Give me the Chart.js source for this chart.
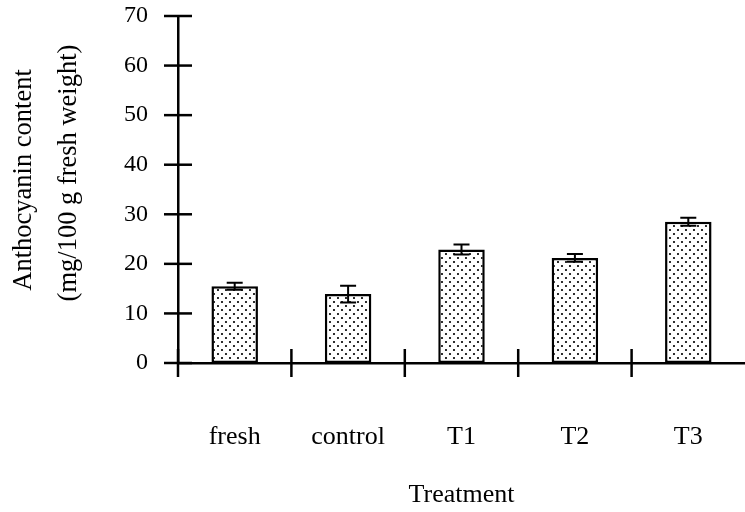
<!DOCTYPE html>
<html>
<head>
<meta charset="utf-8">
<script src="https://cdn.jsdelivr.net/npm/chart.js@4.4.1/dist/chart.umd.min.js"></script>
<style>
  html, body { margin: 0; padding: 0; background: #fff; overflow: hidden; }
  #wrap { width: 745px; height: 512px; }
</style>
</head>
<body>
<div id="wrap"><canvas id="chart" width="745" height="512"></canvas></div>
<script>
// Values
const categories = ['fresh', 'control', 'T1', 'T2', 'T3'];
const anthocyanin = [15.5, 13.9, 22.9, 21.2, 28.5];
const stdErrors = [0.7, 1.7, 1.0, 0.8, 0.8];
const yTitleLines = ['Anthocyanin content', '(mg/100 g fresh weight)'];

const SERIF = "'Liberation Serif', 'DejaVu Serif', serif";

// Dotted fill like the printed bars
function dotPattern() {
    const tile = document.createElement('canvas');
    tile.width = 8;
    tile.height = 8;
    const c = tile.getContext('2d');
    c.fillStyle = '#fff';
    c.fillRect(0, 0, 8, 8);
    c.fillStyle = '#000';
    c.beginPath();
    c.arc(2, 2, 1.1, 0, Math.PI * 2);
    c.arc(6, 6, 1.1, 0, Math.PI * 2);
    c.fill();
    return c.createPattern(tile, 'repeat');
}

// Tick marks crossing both axes
const crossTicks = {
    id: 'crossTicks',
    afterDatasetsDraw(chart) {
        const { ctx, scales: { x, y } } = chart;
        ctx.save();
        ctx.strokeStyle = '#000';
        ctx.lineWidth = 2.5;
        y.ticks.forEach((t, i) => {
            const py = y.getPixelForTick(i);
            ctx.beginPath();
            ctx.moveTo(y.right - 14, py);
            ctx.lineTo(y.right + 14, py);
            ctx.stroke();
        });
        const base = y.getPixelForValue(0);
        for (let i = 0; i < categories.length; i++) {
            const px = x.getPixelForValue(i - 0.5);
            ctx.beginPath();
            ctx.moveTo(px, base - 14);
            ctx.lineTo(px, base + 14);
            ctx.stroke();
        }
        ctx.restore();
    }
};

// Error bars with caps
const errorBars = {
    id: 'errorBars',
    afterDatasetsDraw(chart) {
        const { ctx, scales: { y } } = chart;
        const meta = chart.getDatasetMeta(0);
        ctx.save();
        ctx.strokeStyle = '#000';
        ctx.lineWidth = 2;
        meta.data.forEach((bar, i) => {
            const top = y.getPixelForValue(anthocyanin[i] + stdErrors[i]);
            const bot = y.getPixelForValue(anthocyanin[i] - stdErrors[i]);
            ctx.beginPath();
            ctx.moveTo(bar.x, top);
            ctx.lineTo(bar.x, bot);
            ctx.moveTo(bar.x - 8, top);
            ctx.lineTo(bar.x + 8, top);
            ctx.moveTo(bar.x - 8, bot);
            ctx.lineTo(bar.x + 8, bot);
            ctx.stroke();
        });
        ctx.restore();
    }
};

// Two-line rotated y title, sat a little above the plot centre as in the print
const yTitle = {
    id: 'yTitle',
    afterDraw(chart) {
        const { ctx } = chart;
        const cols = [24, 69];
        const mids = [180, 173];
        ctx.save();
        ctx.fillStyle = '#000';
        ctx.font = "26.5px " + SERIF;
        ctx.textAlign = 'center';
        ctx.textBaseline = 'middle';
        yTitleLines.forEach((line, i) => {
            ctx.save();
            ctx.translate(cols[i], mids[i]);
            ctx.rotate(-Math.PI / 2);
            ctx.fillText(line, 0, 0);
            ctx.restore();
        });
        ctx.restore();
    }
};

new Chart(document.getElementById('chart'), {
    type: 'bar',
    data: {
        labels: categories,
        datasets: [{
            data: anthocyanin,
            backgroundColor: dotPattern(),
            borderColor: '#000',
            borderWidth: 2.5,
            borderSkipped: false,
            barPercentage: 0.41,
            categoryPercentage: 1
        }]
    },
    options: {
        responsive: false,
        animation: false,
        layout: { padding: { top: 16, right: 0, bottom: 0, left: 0 } },
        plugins: {
            legend: { display: false },
            tooltip: { enabled: false }
        },
        scales: {
            x: {
                offset: true,
                grid: { display: false, drawTicks: false },
                border: { color: '#000', width: 2.5 },
                ticks: {
                    color: '#000',
                    padding: 59,
                    font: { family: SERIF, size: 26 }
                },
                title: {
                    display: true,
                    text: 'Treatment',
                    color: '#000',
                    padding: { top: 0, bottom: 1 },
                    font: { family: SERIF, size: 26 }
                },
                afterFit(scale) {
                    scale.height = 149;
                    scale.paddingLeft = 0;
                    scale.paddingRight = 0;
                }
            },
            y: {
                min: 0,
                max: 70,
                grid: { display: false, drawTicks: false },
                border: { color: '#000', width: 2.5 },
                ticks: {
                    stepSize: 10,
                    color: '#000',
                    padding: 30,
                    font: { family: SERIF, size: 24 }
                },
                afterFit(scale) {
                    scale.width = 178;
                    scale.paddingTop = 0;
                    scale.paddingBottom = 0;
                }
            }
        }
    },
    plugins: [crossTicks, errorBars, yTitle]
});
</script>
</body>
</html>
